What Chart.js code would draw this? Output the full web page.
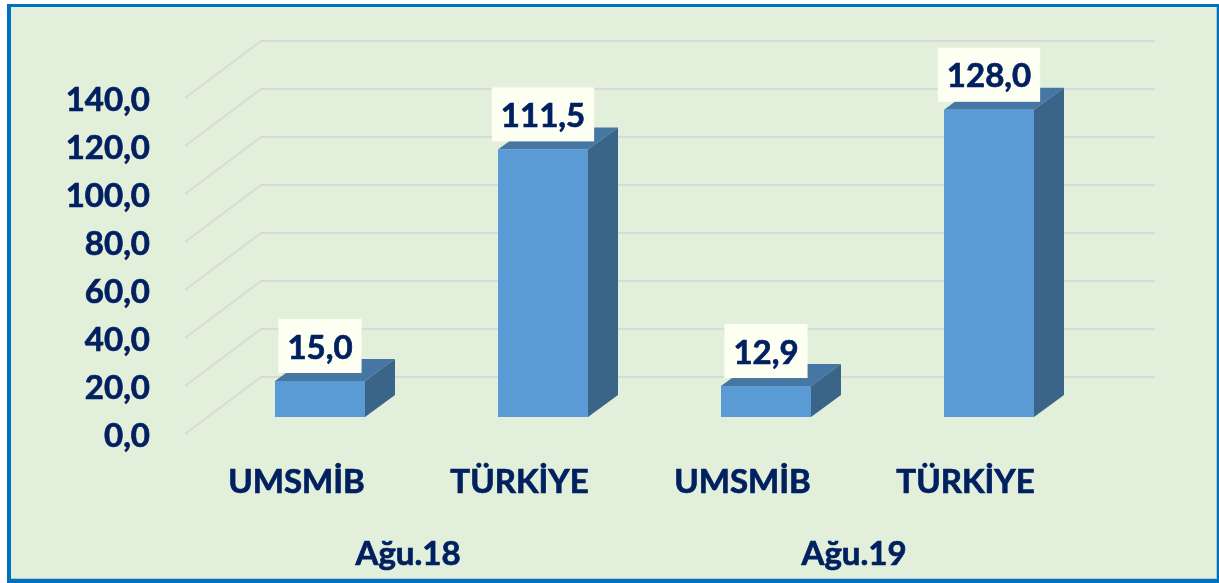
<!DOCTYPE html>
<html>
<head>
<meta charset="utf-8">
<script src="https://cdn.jsdelivr.net/npm/chart.js@4"></script>
<style>
    html, body { margin: 0; padding: 0; background: #ffffff; }
    #frame { position: absolute; left: 7px; top: 4px; width: 1206px; height: 572px; border: 3px solid #0070c0; border-left-width: 4px; border-bottom-width: 4px; background: #e2efda; box-shadow: inset -1px -1px 0 #b5c9c4; }
    #chart { position: absolute; left: 0; top: 0; }
</style>
</head>
<body>
<div id="frame"></div>
<canvas id="chart" width="1219" height="583"></canvas>
<script>
// Verilerin tamami
var groups = ['Ağu.18', 'Ağu.19'];
var categories = ['UMSMİB', 'TÜRKİYE', 'UMSMİB', 'TÜRKİYE'];
var values = [15.0, 111.5, 12.9, 128.0];
var yTicks = [0, 20, 40, 60, 80, 100, 120, 140];

var navy = '#002060';
var labelFont = 'bold 33px Lato';
var tickFont = { family: 'Lato', size: 33, weight: 'bold' };
var textStroke = 0.7;

// 3D derinlik: zemin ve cubuk kaydirmalari
var floorDx = 76, floorDy = -57;
var barShiftX = 23.5, barShiftY = -17;
var barDx = 30, barDy = -22;
var gridRight = 1155;

var formatValue = (v) => v.toFixed(1).replace('.', ',');

var threeD = {
    id: 'threeD',
    beforeDatasetsDraw(chart) {
        var ctx = chart.ctx;
        var y = chart.scales.y;
        var left = chart.chartArea.left;
        // izgara cizgileri: on duzlemden arka duvara
        ctx.save();
        ctx.strokeStyle = '#d9d9dc';
        ctx.lineWidth = 2;
        yTicks.forEach((t) => {
            var py = y.getPixelForValue(t);
            ctx.beginPath();
            ctx.moveTo(left, py);
            ctx.lineTo(left + floorDx, py + floorDy);
            ctx.lineTo(gridRight, py + floorDy);
            ctx.stroke();
        });
        ctx.restore();
        // cubuklarin ust ve yan yuzleri
        chart.getDatasetMeta(0).data.forEach((bar) => {
            var x0 = bar.x - bar.width / 2 + barShiftX;
            var x1 = bar.x + bar.width / 2 + barShiftX;
            var top = bar.y + barShiftY;
            var bottom = bar.base + barShiftY;
            ctx.fillStyle = '#4676a3';
            ctx.beginPath();
            ctx.moveTo(x0, top);
            ctx.lineTo(x0 + barDx, top + barDy);
            ctx.lineTo(x1 + barDx, top + barDy);
            ctx.lineTo(x1, top);
            ctx.closePath();
            ctx.fill();
            ctx.fillStyle = '#3a6488';
            ctx.beginPath();
            ctx.moveTo(x1, top);
            ctx.lineTo(x1 + barDx, top + barDy);
            ctx.lineTo(x1 + barDx, bottom + barDy);
            ctx.lineTo(x1, bottom);
            ctx.closePath();
            ctx.fill();
        });
        // on yuzler kutuphane tarafindan kaydirilmis cizilir
        ctx.save();
        ctx.translate(barShiftX, barShiftY);
    },
    afterDatasetsDraw(chart) {
        var ctx = chart.ctx;
        ctx.restore();
        // deger etiketleri
        ctx.save();
        ctx.font = labelFont;
        ctx.textAlign = 'center';
        ctx.textBaseline = 'middle';
        chart.getDatasetMeta(0).data.forEach((bar, i) => {
            var text = formatValue(values[i]);
            var cx = bar.x + barShiftX;
            var cy = bar.y + barShiftY - 35;
            var w = ctx.measureText(text).width + 18;
            ctx.fillStyle = '#fdfff3';
            ctx.fillRect(cx - w / 2, cy - 27, w, 54);
            ctx.fillStyle = navy;
            ctx.strokeStyle = navy;
            ctx.lineWidth = textStroke;
            ctx.strokeText(text, cx, cy + 2);
            ctx.fillText(text, cx, cy + 2);
        });
        ctx.restore();
    }
};

var context = document.getElementById('chart').getContext('2d');
var chart = new Chart(context, {
    type: 'bar',
    data: {
        labels: categories,
        datasets: [{
            data: values,
            backgroundColor: '#5b9bd5',
            borderWidth: 0,
            barPercentage: 90 / 223,
            categoryPercentage: 1
        }]
    },
    options: {
        responsive: false,
        animation: false,
        layout: { padding: { left: 0, top: 98, right: 142, bottom: 0 } },
        plugins: { legend: { display: false }, tooltip: { enabled: false } },
        scales: {
            x: {
                grid: { display: false, drawTicks: false },
                border: { display: false },
                ticks: { color: navy, font: tickFont, textStrokeColor: navy, textStrokeWidth: textStroke, padding: 29, maxRotation: 0, autoSkip: false },
                afterFit(scale) { scale.height = 100; }
            },
            x2: {
                type: 'category',
                position: 'bottom',
                weight: 1,
                labels: groups,
                offset: true,
                grid: { display: false, drawTicks: false },
                border: { display: false },
                ticks: { color: navy, font: tickFont, textStrokeColor: navy, textStrokeWidth: textStroke, padding: 1, maxRotation: 0, autoSkip: false },
                afterFit(scale) { scale.height = 49; }
            },
            y: {
                min: 0,
                max: 140,
                afterBuildTicks(scale) { scale.ticks = yTicks.map((v) => ({ value: v })); },
                grid: { display: false, drawTicks: false },
                border: { display: false },
                ticks: { color: navy, font: tickFont, textStrokeColor: navy, textStrokeWidth: textStroke, padding: 35, labelOffset: 2, callback: (v) => formatValue(v) },
                afterFit(scale) { scale.width = 185; }
            }
        }
    },
    plugins: [threeD]
});
</script>
</body>
</html>
